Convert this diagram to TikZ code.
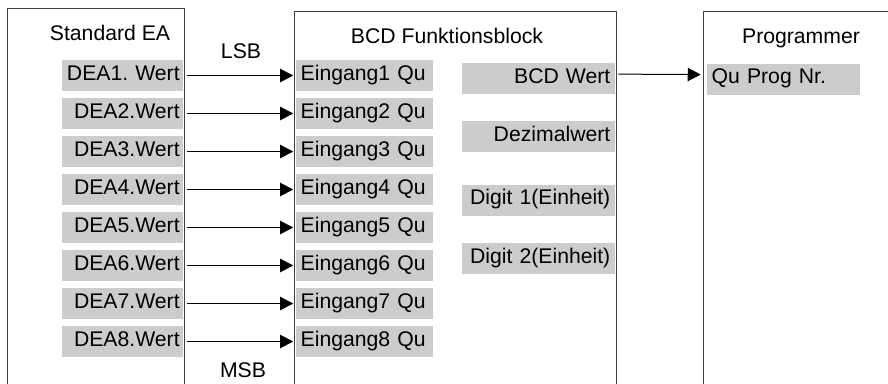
\documentclass[tikz,border=0pt]{standalone}
\usepackage{fontspec}
\setmainfont{Liberation Sans}
\usetikzlibrary{arrows.meta}
\definecolor{bargray}{HTML}{CCCCCC}
\definecolor{framegray}{HTML}{404040}
\frenchspacing
\begin{document}
\begin{tikzpicture}[x=0.75pt,y=-0.75pt,
  every node/.style={font=\fontsize{15.9pt}{18pt}\selectfont\frenchspacing, inner sep=0pt},
  frame/.style={draw=framegray, line width=0.9pt, rectangle, anchor=north west, minimum height=337.5pt},
  bar/.style={fill=bargray, minimum height=23.25pt, text height=0.716em, text depth=0pt, inner xsep=3.5pt},
  deabar/.style={bar, inner xsep=2.5pt, text width=85.75pt, align=right},
  einbar/.style={bar, text width=95.75pt, align=left},
  outbar/.style={bar, text width=107.75pt, align=right},
  qubar/.style={bar, text width=107.75pt, align=left},
  link/.style={draw=black, line width=0.75pt, -{Triangle[length=9.75pt,width=10pt]}},
  title/.style={anchor=base}
]
\useasboundingbox (0,0) rectangle (888,383);
\clip (0,0) rectangle (888,383);
% frames
\node[frame, minimum width=132.75pt] (ea) at (7,8) {};
\node[frame, minimum width=241.5pt] (bcdblk) at (294,11) {};
\node[frame, minimum width=225pt] (prog) at (703,11) {};
% titles
\node[title] (tea) at (110,40) {Standard EA};
\node[title] (lsb) at (241,58) {LSB};
\node[title] (msb) at (243,377) {MSB};
\node[title] (tbcd) at (447,43) {BCD Funktionsblock};
\node[title] (tprog) at (801,43) {Programmer};
% input rows
\foreach \k/\lab in {1/{DEA1. Wert},2/{DEA2.Wert},3/{DEA3.Wert},4/{DEA4.Wert},5/{DEA5.Wert},6/{DEA6.Wert},7/{DEA7.Wert},8/{DEA8.Wert}}{
  \pgfmathsetmacro{\yy}{75.5+38*(\k-1)}
  \node[deabar] (dea\k) at (122.5,\yy) {\mbox{\lab}};
  \node[einbar] (ein\k) at (364.5,\yy) {Eingang\k{} Qu};
  \draw[link, shorten <=3pt, shorten >=1.9pt] (dea\k.east) -- (ein\k.west);
}
% outputs
\node[outbar] (bcdw) at (538.5,78.5) {BCD Wert};
\node[outbar] (dez) at (538.5,136.5) {Dezimalwert};
\node[outbar] (dig1) at (538.5,200) {Digit 1(Einheit)};
\node[outbar] (dig2) at (538.5,258.5) {Digit 2(Einheit)};
\node[qubar] (qu) at (783.5,79) {Qu Prog Nr.};
\draw[link, shorten <=2.25pt, shorten >=4.5pt] ([yshift=3.3pt]bcdw.east) -- ([yshift=3.3pt]qu.west);
\end{tikzpicture}
\end{document}
